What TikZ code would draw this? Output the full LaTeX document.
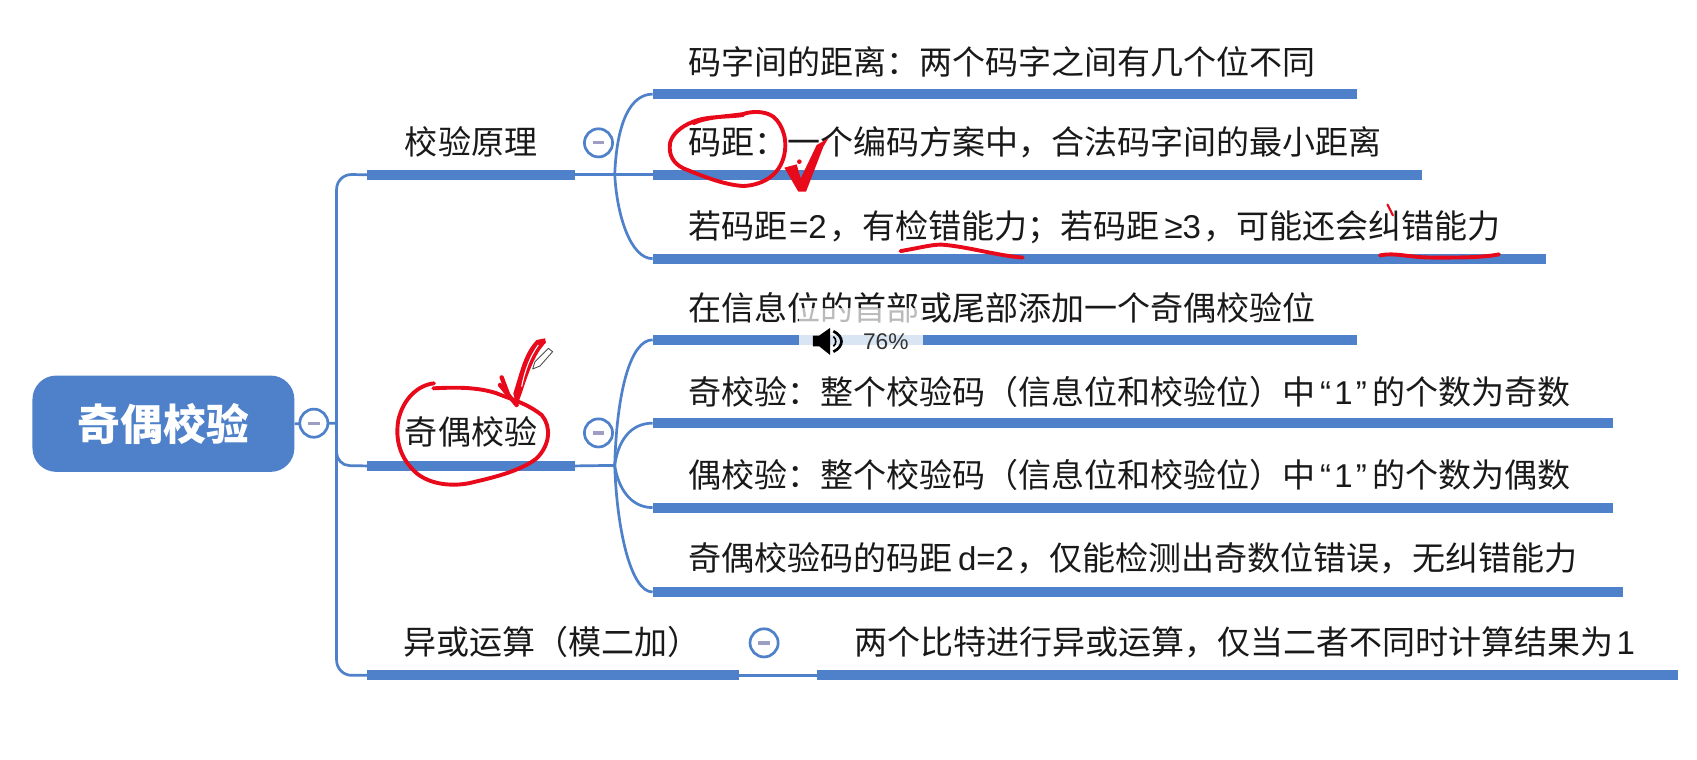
\documentclass[tikz,border=0pt]{standalone}
\usepackage{fontspec}
\setmainfont{Noto Sans CJK SC}
\newfontfamily\latinf{Liberation Sans}
\newcommand{\lt}[1]{{\latinf #1}}
\definecolor{mblue}{HTML}{4E81C9}
\definecolor{minusc}{HTML}{9C9EC4}
\definecolor{inkred}{HTML}{E8091A}
\definecolor{band}{HTML}{D9E5F3}
\tikzset{
  conn/.style={draw=mblue,line width=2.5pt},
  barbox/.style={fill=mblue,anchor=west,inner sep=0pt,minimum height=9.2pt,outer sep=0pt},
  txt/.style={anchor=base west,inner sep=0pt,font=\fontsize{30.5}{36}\selectfont,text=black!90},
  toggle/.style={circle,draw=mblue,fill=white,line width=2.5pt,minimum size=26pt,inner sep=0pt},
  ink/.style={draw=inkred,line width=3.6pt,line cap=round,line join=round},
}
\newcommand{\minusmark}[1]{\draw[minusc,line width=3pt] ([xshift=-5.5pt]#1.center) -- ([xshift=5.5pt]#1.center);}
\begin{document}
\begin{tikzpicture}[x=1pt,y=-1pt]
\useasboundingbox (0,0) rectangle (1568,702);
% coordinates
\coordinate (sp) at (311,391);
\coordinate (hubA) at (568,161);
\coordinate (hubB) at (568,430);
\coordinate (c1) at (311,161);
\coordinate (c3) at (311,624);
\coordinate (c2) at (311,430);
% bars
\node[barbox,minimum width=192pt] (L1) at (339,161.5) {};
\node[barbox,minimum width=192pt] (L2) at (339,430.5) {};
\node[barbox,minimum width=344pt] (L3) at (339,624) {};
\node[barbox,minimum width=651pt] (a1) at (603,87) {};
\node[barbox,minimum width=711pt] (a2) at (603,161.5) {};
\node[barbox,minimum width=825pt] (a3) at (603,239) {};
\node[barbox,minimum width=651pt] (b1) at (603,314) {};
\node[barbox,minimum width=887pt] (b2) at (603,391) {};
\node[barbox,minimum width=887pt] (b3) at (603,469) {};
\node[barbox,minimum width=897pt] (b4) at (603,547) {};
\node[barbox,minimum width=795pt] (d1) at (755,624) {};
% root
\node[fill=mblue,rounded corners=22pt,minimum width=242pt,minimum height=89pt,inner sep=0pt,text=white,font=\fontsize{39.5}{46}\selectfont\bfseries] (root) at (151,391.5) {奇偶校验};
% connectors
\draw[conn] (root.east) -- (sp);
\draw[conn,rounded corners=14pt] (L1.west) -- (c1) -- (c3) -- (L3.west);
\draw[conn,rounded corners=12pt] (sp) -- (c2) -- (L2.west);
\draw[conn] (L1.east) -- (a2.west);
\draw[conn] (L2.east) -- (hubB);
\draw[conn] (L3.east) -- (d1.west);
\draw[conn] (hubA) .. controls (570,112) and (583,87) .. (a1.west);
\draw[conn] (hubA) .. controls (570,200) and (583,239) .. (a3.west);
\draw[conn] (hubB) .. controls (570,360) and (583,314) .. (b1.west);
\draw[conn] (hubB) .. controls (571,408) and (582,391) .. (b2.west);
\draw[conn] (hubB) .. controls (571,450) and (582,469) .. (b3.west);
\draw[conn] (hubB) .. controls (570,490) and (583,547) .. (b4.west);
% toggles
\node[toggle] (t0) at (290,391) {}; \minusmark{t0}
\node[toggle] (t1) at (553,132) {}; \minusmark{t1}
\node[toggle] (t2) at (553,400) {}; \minusmark{t2}
\node[toggle] (t3) at (706,594) {}; \minusmark{t3}
% labels
\node[txt] (n1) at (374,143) {校验原理};
\node[txt] (n2) at (374,411) {奇偶校验};
\node[txt] (n3) at (373,605) {异或运算（模二加）};
\node[txt] (p1) at (636,69) {码字间的距离：两个码字之间有几个位不同};
\node[txt] (p2) at (636,143) {码距：一个编码方案中，合法码字间的最小距离};
\node[txt] (p3) at (636,220) {若码距\kern1.5pt\lt{=2}\kern2pt，有检错能力；若码距\kern5pt\lt{≥3}\kern2pt，可能还会纠错能力};
\node[txt] (q1) at (636,296) {在信息位的首部或尾部添加一个奇偶校验位};
\node[txt] (q2) at (636,374) {奇校验：整个校验码（信息位和校验位）中\kern4pt\lt{“\kern3pt 1\kern3pt”}\kern5pt 的个数为奇数};
\node[txt] (q3) at (636,450) {偶校验：整个校验码（信息位和校验位）中\kern4pt\lt{“\kern3pt 1\kern3pt”}\kern5pt 的个数为偶数};
\node[txt] (q4) at (636,527) {奇偶校验码的码距\kern5pt\lt{d=2}\kern2pt，仅能检测出奇数位错误，无纠错能力};
\node[txt] (r1) at (789,605) {两个比特进行异或运算，仅当二者不同时计算结果为\kern3pt\lt{1}};
% volume overlay
\fill[white,opacity=.7] (738,285) rectangle (853,302);
\fill[band] (738,309.4) rectangle (853,318.6);
\fill[black] (751,310) -- (757,310) -- (767,303) -- (767,328) -- (757,320) -- (751,320) -- cycle;
\draw[black,line width=2.5pt] (770,306) .. controls (780,311) and (780,320) .. (770,325);
\draw[black,line width=1.5pt] (770,311) .. controls (773,313) and (773,318) .. (770,320);
\node[anchor=center,inner sep=0pt,font=\latinf\fontsize{21}{25}\selectfont,text=black!80] (vol) at (818.5,316) {76\%};
% ink: code-distance ring and tick
\begin{scope}[shift={(600.6,92.4)},x=.308pt,y=-.308pt]
\draw[ink] (130,70) .. controls (170,50) and (230,50) .. (280,42) .. controls (300,35) and (340,30) .. (370,50)
  .. controls (400,75) and (415,125) .. (400,175) .. controls (385,225) and (340,255) .. (280,258)
  .. controls (220,255) and (150,225) .. (100,205) .. controls (70,190) and (55,165) .. (60,130)
  .. controls (65,105) and (90,80) .. (130,65) .. controls (170,48) and (230,52) .. (280,45);
\fill[inkred] (403,203) -- (440,193) -- (452,235) -- (500,135) -- (535,115) -- (520,140) -- (468,275) -- (445,275) -- cycle;
\fill[inkred] (448,185) circle (7);
\end{scope}
% ink: underlines
\draw[ink] (832,232) .. controls (850,229) and (860,226) .. (870,226) .. controls (895,228) and (920,236) .. (945,238);
\draw[ink] (1275,236) .. controls (1290,233) and (1300,238) .. (1325,238) .. controls (1350,238) and (1370,238) .. (1385,235);
\draw[draw=inkred,line width=2pt,line cap=round] (1282,189) -- (1287,199);
% ink: parity ring and arrow
\begin{scope}[shift={(351.1,304.9)},x=.308pt,y=-.308pt]
\draw[ink] (162,160) .. controls (115,165) and (70,205) .. (55,270) .. controls (45,330) and (60,385) .. (110,430)
  .. controls (150,462) and (210,470) .. (265,460) .. controls (330,445) and (420,425) .. (470,385)
  .. controls (510,345) and (515,290) .. (485,255) .. controls (440,220) and (400,210) .. (350,190)
  .. controls (290,170) and (220,172) .. (160,175);
\fill[inkred] (410,232) -- (400,190) .. controls (420,130) and (430,70) .. (470,30) -- (495,25) -- (498,38) .. controls (465,70) and (445,130) .. (425,190) -- cycle;
\draw[white,line width=1pt] (425,170) .. controls (435,120) and (450,80) .. (475,45);
\draw[ink,line width=4pt] (410,225) -- (360,165);
\draw[ink,line width=4pt] (365,142) -- (385,195);
\draw[black!70,fill=white,line width=.8pt,line join=round] (458,117) -- (465,95) -- (505,55) -- (518,65) -- (480,108) -- cycle;
\end{scope}
\end{tikzpicture}
\end{document}
